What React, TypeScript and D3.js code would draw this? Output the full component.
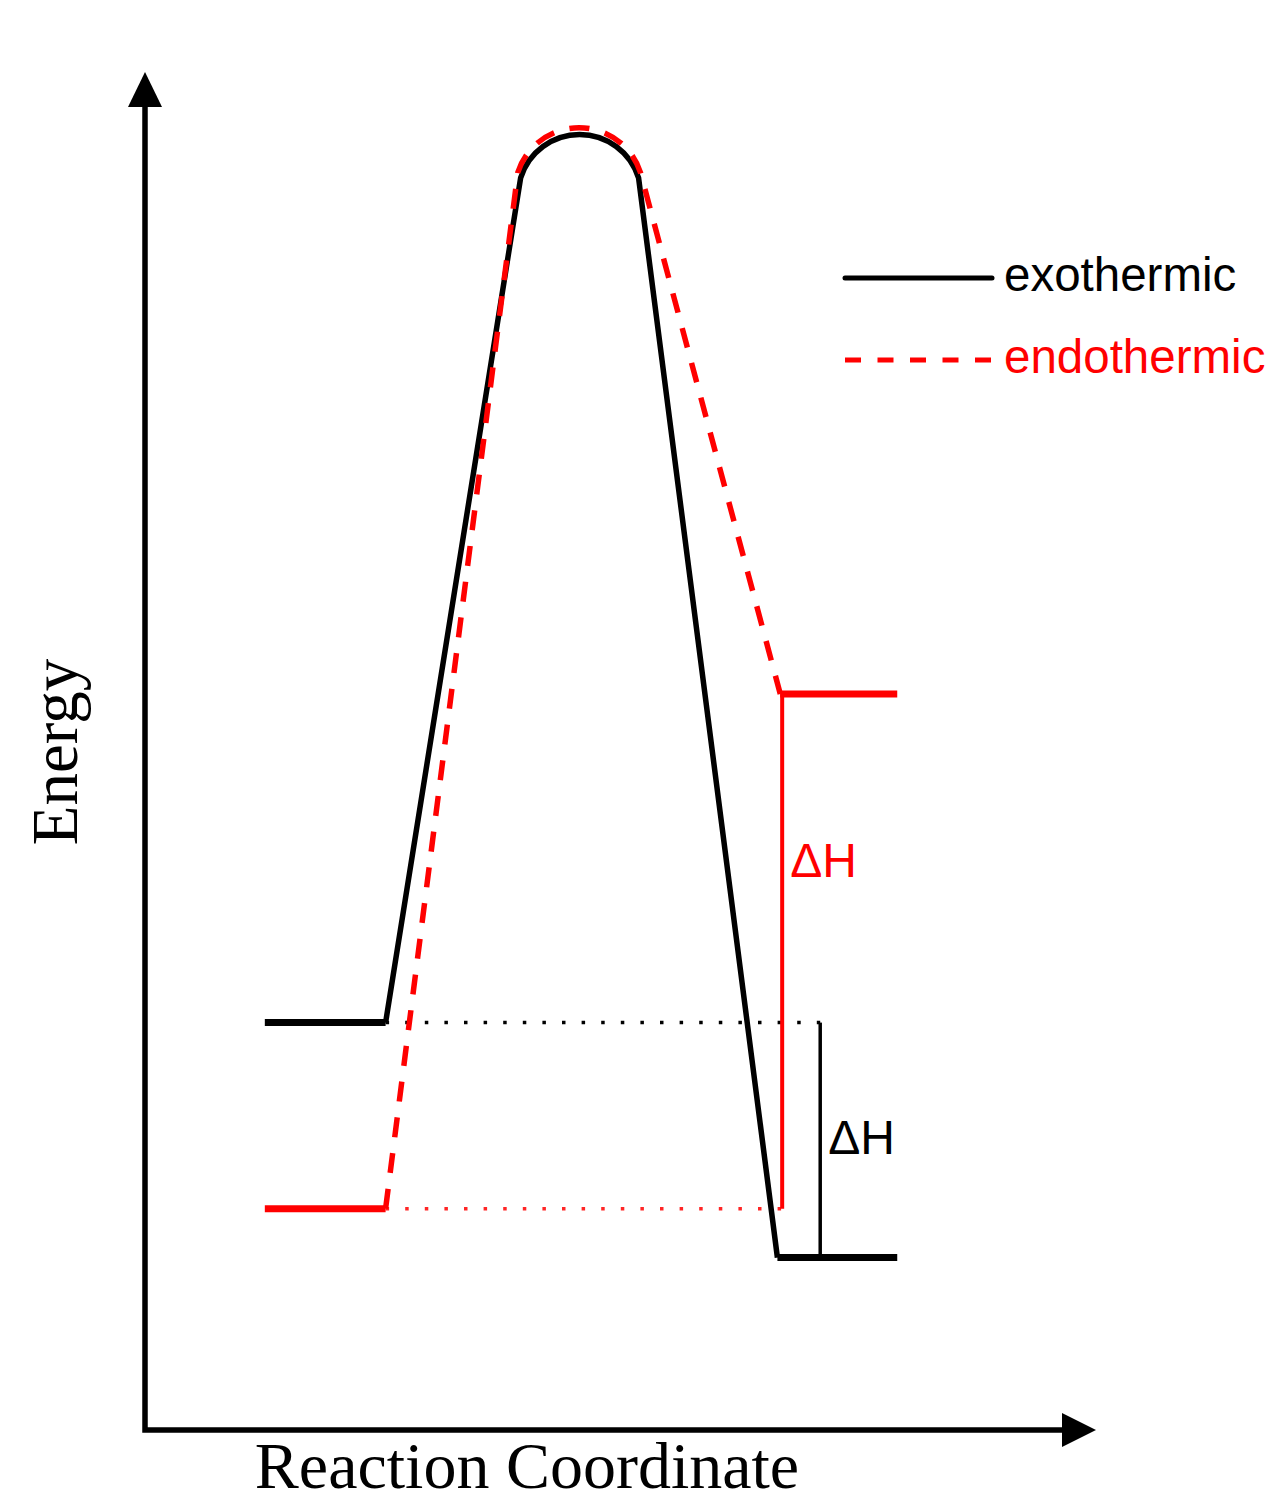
import * as d3 from "d3";

// series order: exothermic (black, solid), endothermic (red, dashed)
const SERIES = ["exothermic", "endothermic"];
const COLORS = ["#000000", "#ff0000"];

// energy levels (arbitrary energy units, 0..100)
const REACTANT_E = [30.0, 16.3];
const PRODUCT_E = [12.7, 54.2];
const SHOULDER_E = [92.2, 92.6];
const PEAK_E = [95.4, 95.9];

// reaction coordinate positions (0..100)
const REACTANT_RC = [
  [12.6, 25.3],
  [12.6, 25.3],
];
const SHOULDER_RC = [
  [39.5, 51.9],
  [39.2, 52.1],
];
const PRODUCT_RC = [
  [66.5, 79.1],
  [66.8, 79.1],
];

// ΔH markers
const DELTA_H_RC = [71.0, 67.0];
const DELTA_H_LABEL_E = [20.3, 40.7];
const DELTA_H_LABEL = "ΔH";

const X_LABEL = "Reaction Coordinate";
const Y_LABEL = "Energy";

const W = 1280;
const H = 1506;
const SANS = "'Liberation Sans', Arial, sans-serif";
const SERIF = "'Liberation Serif', 'Times New Roman', serif";

export default function App() {
  const x = d3.scaleLinear().domain([0, 100]).range([145, 1096]);
  const y = d3.scaleLinear().domain([0, 100]).range([1430, 72]);

  const line = d3.line<[number, number]>();

  // profile: level end -> up to left shoulder, arc over top, down to product level
  const profile = (i: number) => {
    const p = d3.path();
    const x0 = x(REACTANT_RC[i][1]);
    const y0 = y(REACTANT_E[i]);
    const xl = x(SHOULDER_RC[i][0]);
    const xr = x(SHOULDER_RC[i][1]);
    const ys = y(SHOULDER_E[i]);
    const yt = y(PEAK_E[i]);
    const half = (xr - xl) / 2;
    const sag = ys - yt;
    const r = (half * half + sag * sag) / (2 * sag);
    const cx = (xl + xr) / 2;
    const cy = yt + r;
    const a0 = Math.atan2(ys - cy, xl - cx);
    const a1 = Math.atan2(ys - cy, xr - cx);
    p.moveTo(x0, y0);
    p.lineTo(xl, ys);
    p.arc(cx, cy, r, a0, a1, false);
    p.lineTo(x(PRODUCT_RC[i][0]), y(PRODUCT_E[i]));
    return p.toString();
  };

  const axisPath = line([
    [x(0), y(100) + 35],
    [x(0), y(0)],
    [x(100) - 34, y(0)],
  ]);

  return (
    <svg
      width={W}
      height={H}
      viewBox={`0 0 ${W} ${H}`}
      style={{ position: "absolute", left: 0, top: 0, background: "#fff" }}
    >
      {/* axes */}
      <path d={axisPath ?? ""} fill="none" stroke="#000" strokeWidth={5.5} />
      <path
        d={`M${x(0)},${y(100)} L${x(0) - 17},${y(100) + 35} L${x(0) + 17},${y(100) + 35} Z`}
        fill="#000"
      />
      <path
        d={`M${x(100)},${y(0)} L${x(100) - 34},${y(0) - 17} L${x(100) - 34},${y(0) + 17} Z`}
        fill="#000"
      />
      <text
        x={527}
        y={1488}
        textAnchor="middle"
        fontFamily={SERIF}
        fontSize={66}
        fill="#000"
      >
        {X_LABEL}
      </text>
      <text
        transform={`translate(77,752) rotate(-90)`}
        textAnchor="middle"
        fontFamily={SERIF}
        fontSize={65}
        fill="#000"
      >
        {Y_LABEL}
      </text>

      {/* dotted guides at reactant levels */}
      {SERIES.map((s, i) => (
        <path
          key={`guide-${s}`}
          d={
            line([
              [x(REACTANT_RC[i][1]), y(REACTANT_E[i])],
              [x(DELTA_H_RC[i]), y(REACTANT_E[i])],
            ]) ?? ""
          }
          stroke={COLORS[i]}
          strokeWidth={3.5}
          strokeDasharray="3.5 16.1"
          opacity={i === 1 ? 0.85 : 1}
        />
      ))}

      {/* ΔH vertical markers */}
      {SERIES.map((s, i) => (
        <g key={`dh-${s}`}>
          <path
            d={
              line([
                [x(DELTA_H_RC[i]), y(REACTANT_E[i])],
                [x(DELTA_H_RC[i]), y(PRODUCT_E[i])],
              ]) ?? ""
            }
            stroke={COLORS[i]}
            strokeWidth={i === 1 ? 4 : 3.5}
          />
          <text
            x={x(DELTA_H_RC[i]) + 8}
            y={y(DELTA_H_LABEL_E[i])}
            fontFamily={SANS}
            fontSize={48}
            fill={COLORS[i]}
          >
            {DELTA_H_LABEL}
          </text>
        </g>
      ))}

      {/* energy profiles */}
      {SERIES.map((s, i) => (
        <g key={`prof-${s}`}>
          <path
            d={
              line([
                [x(REACTANT_RC[i][0]), y(REACTANT_E[i])],
                [x(REACTANT_RC[i][1]), y(REACTANT_E[i])],
              ]) ?? ""
            }
            stroke={COLORS[i]}
            strokeWidth={7}
          />
          <path
            d={profile(i)}
            fill="none"
            stroke={COLORS[i]}
            strokeWidth={5.5}
            strokeDasharray={i === 1 ? "20 16" : undefined}
          />
          <path
            d={
              line([
                [x(PRODUCT_RC[i][0]), y(PRODUCT_E[i])],
                [x(PRODUCT_RC[i][1]), y(PRODUCT_E[i])],
              ]) ?? ""
            }
            stroke={COLORS[i]}
            strokeWidth={7}
          />
        </g>
      ))}

      {/* legend */}
      {SERIES.map((s, i) => (
        <g key={`leg-${s}`} transform={`translate(845,${278 + i * 82})`}>
          <line
            x1={0}
            x2={147}
            y1={0}
            y2={0}
            stroke={COLORS[i]}
            strokeWidth={5}
            strokeLinecap={i === 0 ? "round" : "butt"}
            strokeDasharray={i === 1 ? "16 16.5" : undefined}
          />
          <text
            x={159}
            y={13}
            fontFamily={SANS}
            fontSize={47.5}
            fill={COLORS[i]}
          >
            {s}
          </text>
        </g>
      ))}
    </svg>
  );
}
